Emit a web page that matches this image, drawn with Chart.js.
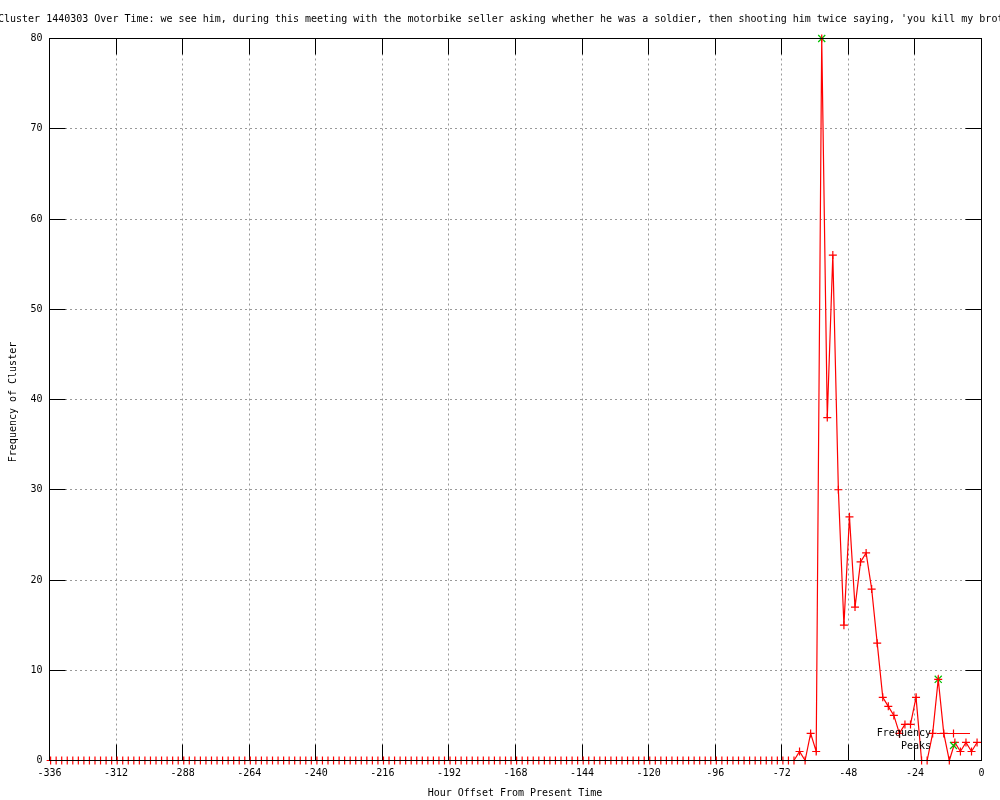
<!DOCTYPE html>
<html>
<head>
<meta charset="utf-8">
<title>Cluster 1440303 Over Time</title>
<script src="https://cdn.jsdelivr.net/npm/chart.js@4.4.1/dist/chart.umd.min.js"></script>
<style>
    html, body { margin: 0; padding: 0; background: #ffffff; }
    #wrap { width: 1000px; height: 800px; }
</style>
</head>
<body>
<div id="wrap"><canvas id="clusterChart" width="1000" height="800"></canvas></div>
<script>
const chartTitle = "Cluster 1440303 Over Time: we see him, during this meeting with the motorbike seller asking whether he was a soldier, then shooting him twice saying, 'you kill my brother'";
const xAxisTitle = 'Hour Offset From Present Time';
const yAxisTitle = 'Frequency of Cluster';

const xTicks = [-336, -312, -288, -264, -240, -216, -192, -168, -144, -120, -96, -72, -48, -24, 0];
const yTicks = [0, 10, 20, 30, 40, 50, 60, 70, 80];

// one sample every 2 hours
const hours = [
    -335.6, -333.6, -331.6, -329.6, -327.6, -325.6, -323.6, -321.6, -319.6, -317.6, -315.6, -313.6,
    -311.6, -309.6, -307.6, -305.6, -303.6, -301.6, -299.6, -297.6, -295.6, -293.6, -291.6, -289.6,
    -287.6, -285.6, -283.6, -281.6, -279.6, -277.6, -275.6, -273.6, -271.6, -269.6, -267.6, -265.6,
    -263.6, -261.6, -259.6, -257.6, -255.6, -253.6, -251.6, -249.6, -247.6, -245.6, -243.6, -241.6,
    -239.6, -237.6, -235.6, -233.6, -231.6, -229.6, -227.6, -225.6, -223.6, -221.6, -219.6, -217.6,
    -215.6, -213.6, -211.6, -209.6, -207.6, -205.6, -203.6, -201.6, -199.6, -197.6, -195.6, -193.6,
    -191.6, -189.6, -187.6, -185.6, -183.6, -181.6, -179.6, -177.6, -175.6, -173.6, -171.6, -169.6,
    -167.6, -165.6, -163.6, -161.6, -159.6, -157.6, -155.6, -153.6, -151.6, -149.6, -147.6, -145.6,
    -143.6, -141.6, -139.6, -137.6, -135.6, -133.6, -131.6, -129.6, -127.6, -125.6, -123.6, -121.6,
    -119.6, -117.6, -115.6, -113.6, -111.6, -109.6, -107.6, -105.6, -103.6, -101.6, -99.6, -97.6,
    -95.6, -93.6, -91.6, -89.6, -87.6, -85.6, -83.6, -81.6, -79.6, -77.6, -75.6, -73.6,
    -71.6, -69.6, -67.6, -65.6, -63.6, -61.6, -59.6, -57.6, -55.6, -53.6, -51.6, -49.6,
    -47.6, -45.6, -43.6, -41.6, -39.6, -37.6, -35.6, -33.6, -31.6, -29.6, -27.6, -25.6,
    -23.6, -21.6, -19.6, -17.6, -15.6, -13.6, -11.6, -9.6, -7.6, -5.6, -3.6, -1.6
];
const frequency = [
    0, 0, 0, 0, 0, 0, 0, 0, 0, 0, 0, 0,
    0, 0, 0, 0, 0, 0, 0, 0, 0, 0, 0, 0,
    0, 0, 0, 0, 0, 0, 0, 0, 0, 0, 0, 0,
    0, 0, 0, 0, 0, 0, 0, 0, 0, 0, 0, 0,
    0, 0, 0, 0, 0, 0, 0, 0, 0, 0, 0, 0,
    0, 0, 0, 0, 0, 0, 0, 0, 0, 0, 0, 0,
    0, 0, 0, 0, 0, 0, 0, 0, 0, 0, 0, 0,
    0, 0, 0, 0, 0, 0, 0, 0, 0, 0, 0, 0,
    0, 0, 0, 0, 0, 0, 0, 0, 0, 0, 0, 0,
    0, 0, 0, 0, 0, 0, 0, 0, 0, 0, 0, 0,
    0, 0, 0, 0, 0, 0, 0, 0, 0, 0, 0, 0,
    0, 0, 0, 1, 0, 3, 1, 80, 38, 56, 30, 15,
    27, 17, 22, 23, 19, 13, 7, 6, 5, 3, 4, 4,
    7, 0, 0, 3, 9, 3, 0, 2, 1, 2, 1, 2
];
const peakHours = [-57.6, -15.6];
const peakValues = [80, 9];

const FONT = '"DejaVu Sans Mono", "Liberation Mono", monospace';
const RED = '#ff0000';
const GREEN = '#00c000';
const TICK_LEN = 16;

const snap = v => Math.round(v - 0.5) + 0.5;

// gnuplot style border, ticks, titles and key
const gnuplotFrame = {
    id: 'gnuplotFrame',
    beforeDatasetsDraw(chart) {
        const { ctx, chartArea: a, scales: { x, y } } = chart;
        ctx.save();
        ctx.setLineDash([]);
        ctx.strokeStyle = '#000000';
        ctx.lineWidth = 1;
        ctx.beginPath();
        xTicks.forEach(v => {
            const px = snap(x.getPixelForValue(v));
            ctx.moveTo(px, a.bottom); ctx.lineTo(px, a.bottom - TICK_LEN);
            ctx.moveTo(px, a.top); ctx.lineTo(px, a.top + TICK_LEN);
        });
        yTicks.forEach(v => {
            const py = snap(y.getPixelForValue(v));
            ctx.moveTo(a.left, py); ctx.lineTo(a.left + TICK_LEN, py);
            ctx.moveTo(a.right, py); ctx.lineTo(a.right - TICK_LEN, py);
        });
        ctx.stroke();
        ctx.restore();
    },
    afterDatasetsDraw(chart) {
        const { ctx, chartArea: a } = chart;
        ctx.save();
        ctx.setLineDash([]);
        ctx.strokeStyle = '#000000';
        ctx.lineWidth = 1;
        ctx.strokeRect(a.left, a.top, a.right - a.left, a.bottom - a.top);

        // key, bottom right inside the plot
        ctx.font = '10px ' + FONT;
        ctx.fillStyle = '#000000';
        ctx.textAlign = 'right';
        ctx.textBaseline = 'middle';
        ctx.fillText('Frequency', 931, 733);
        ctx.fillText('Peaks', 931, 746);

        ctx.strokeStyle = RED;
        ctx.lineWidth = 1.2;
        ctx.beginPath();
        ctx.moveTo(937, 733.5); ctx.lineTo(970, 733.5);
        ctx.moveTo(953.5, 729.5); ctx.lineTo(953.5, 737.5);
        ctx.stroke();

        ctx.strokeStyle = GREEN;
        ctx.beginPath();
        ctx.moveTo(950, 742); ctx.lineTo(957, 749);
        ctx.moveTo(957, 742); ctx.lineTo(950, 749);
        ctx.stroke();
        ctx.restore();
    },
    afterDraw(chart) {
        const { ctx } = chart;
        ctx.save();
        ctx.font = '10px ' + FONT;
        ctx.fillStyle = '#000000';
        ctx.textBaseline = 'middle';

        ctx.textAlign = 'left';
        ctx.fillText(chartTitle, -2, 19);

        ctx.textAlign = 'center';
        ctx.fillText(xAxisTitle, 515, 793);

        ctx.translate(13, 402);
        ctx.rotate(-Math.PI / 2);
        ctx.fillText(yAxisTitle, 0, 0);
        ctx.restore();
    }
};

function crearGrafico() {
    const ctx = document.getElementById('clusterChart').getContext('2d');
    const freqPoints = hours.map((h, i) => ({ x: h, y: frequency[i] }));
    const peakPoints = peakHours.map((h, i) => ({ x: h, y: peakValues[i] }));

    new Chart(ctx, {
        type: 'line',
        data: {
            datasets: [{
                label: 'Frequency',
                data: freqPoints,
                borderColor: RED,
                borderWidth: 1.2,
                tension: 0,
                fill: false,
                pointStyle: 'cross',
                pointRadius: 4,
                pointBorderColor: RED,
                pointBorderWidth: 1.2,
                clip: false
            }, {
                label: 'Peaks',
                data: peakPoints,
                showLine: false,
                pointStyle: 'crossRot',
                pointRadius: 5,
                pointBorderColor: GREEN,
                pointBackgroundColor: GREEN,
                pointBorderWidth: 1.2,
                clip: false
            }]
        },
        options: {
            responsive: false,
            animation: false,
            events: [],
            layout: { padding: { top: 38.5, right: 18.5, left: 0, bottom: 0 } },
            plugins: {
                legend: { display: false },
                title: { display: false },
                tooltip: { enabled: false }
            },
            scales: {
                x: {
                    type: 'linear',
                    min: -336,
                    max: 0,
                    afterBuildTicks: s => { s.ticks = xTicks.map(v => ({ value: v })); },
                    afterFit: s => { s.height = 39.5; },
                    grid: { color: '#999999', drawTicks: false },
                    border: { display: false, dash: [2, 3] },
                    ticks: {
                        padding: 7,
                        color: '#000000',
                        maxRotation: 0,
                        font: { family: FONT, size: 10 }
                    }
                },
                y: {
                    type: 'linear',
                    min: 0,
                    max: 80,
                    afterBuildTicks: s => { s.ticks = yTicks.map(v => ({ value: v })); },
                    afterFit: s => { s.width = 49.5; },
                    grid: { color: '#999999', drawTicks: false },
                    border: { display: false, dash: [2, 3] },
                    ticks: {
                        padding: 7,
                        color: '#000000',
                        font: { family: FONT, size: 10 }
                    }
                }
            }
        },
        plugins: [gnuplotFrame]
    });
}

document.addEventListener('DOMContentLoaded', crearGrafico);
</script>
</body>
</html>
